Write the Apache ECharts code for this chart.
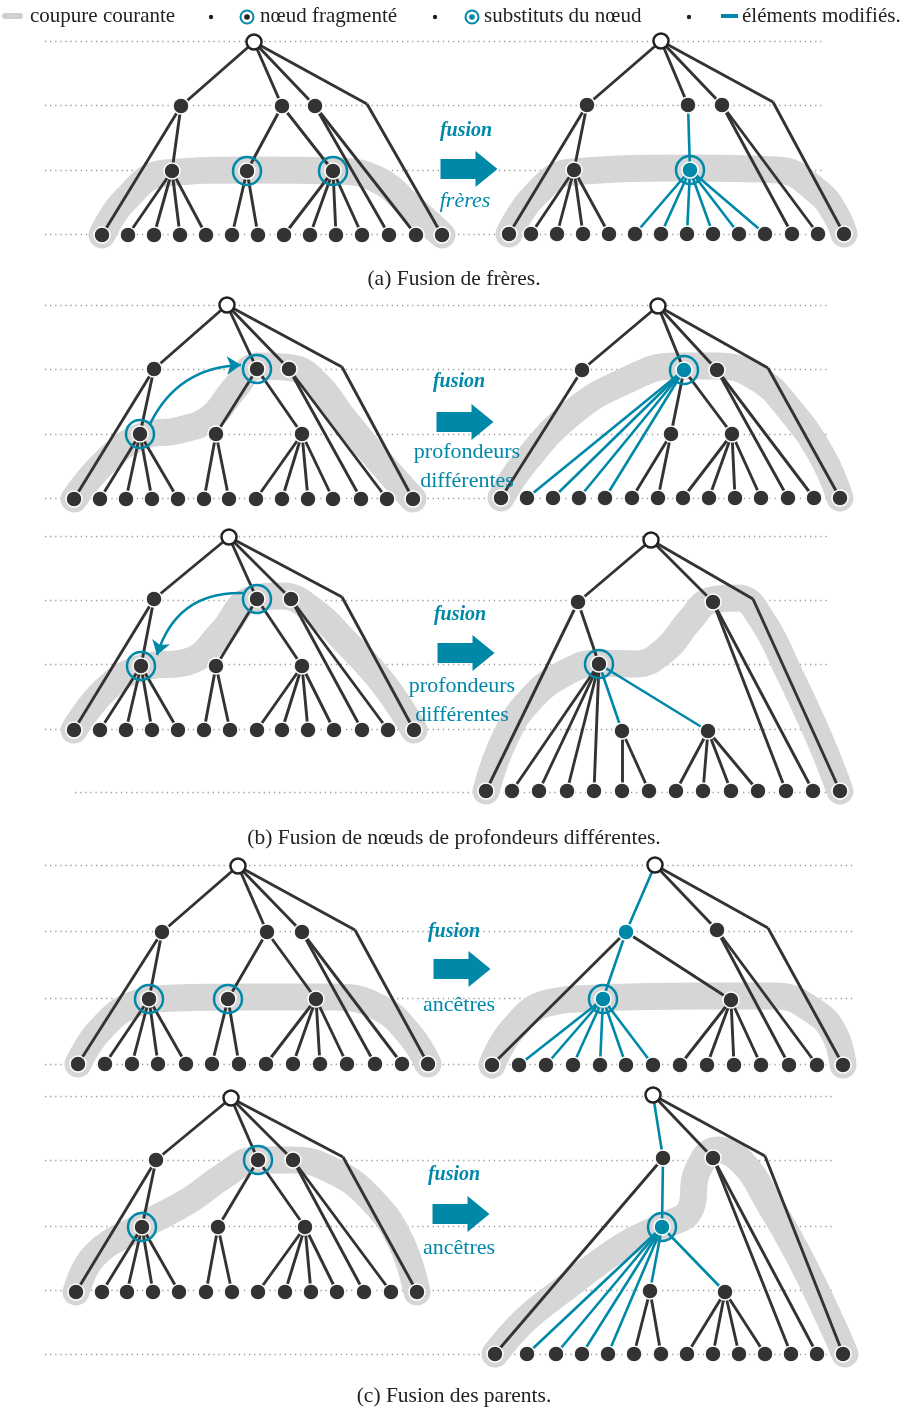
<!DOCTYPE html>
<html>
<head>
<meta charset="utf-8">
<script src="https://cdn.jsdelivr.net/npm/echarts@6/dist/echarts.min.js"></script>
<style>
  html, body { margin: 0; padding: 0; background: #fff; }
  #chart { width: 909px; height: 1410px; }
</style>
</head>
<body>
<div id="chart"></div>
<script>
const chart = echarts.init(document.getElementById("chart"));

// ==========================
// COLOURS / FONTS
// ==========================

const BLUE = "#0088a8";
const DARK = "#333333";
const BAND = "#d6d6d6";
const FONT = "'Liberation Serif', serif";

// ==========================
// TREE DATA  (node positions, edges as [parent, child]; "lN" = leaf N)
// ==========================

// all five left-hand trees share the same shape
const leftEdges = [[0,1],[0,2],[0,3],[0,4],[4,"l13"],[1,"l0"],[1,5],[5,"l1"],[5,"l2"],[5,"l3"],[5,"l4"],
  [2,6],[2,7],[6,"l5"],[6,"l6"],[7,"l7"],[7,"l8"],[7,"l9"],[7,"l10"],[3,"l11"],[3,"l12"]];

// (a) left
const aLeftInner = [[254,42],[181,106],[282,106],[315,106],[367,104],[172,171],[247,171],[333,171]];
const aLeftLeaves = [102,128,154,180,206,232,258,284,310,336,362,389,416,442];
const aLeftLeafY = 235;
const aLeftRings = [6, 7];
const aLeftCut = [[102,235],[125,200],[165,173],[250,170],[335,171],[378,180],[412,208],[442,235]];

// (a) right
const aRightInner = [[661,41],[587,105],[688,105],[722,105],[773,102],[574,170],[690,170]];
const aRightLeaves = [509,531,557,583,609,635,661,687,713,739,765,792,818,844];
const aRightLeafY = 234;
const aRightEdges = [[0,1],[0,2],[0,3],[0,4],[4,"l13"],[1,"l0"],[1,5],[5,"l1"],[5,"l2"],[5,"l3"],[5,"l4"],[3,"l11"],[3,"l12"]];
const aRightBlue = [[2,6],[6,"l5"],[6,"l6"],[6,"l7"],[6,"l8"],[6,"l9"],[6,"l10"]];
const aRightCut = [[509,234],[535,195],[572,172],[690,168],[778,170],[818,192],[836,215],[844,234]];

// (b) first row, left
const b1LeftInner = [[227,305],[154,369],[257,369],[289,369],[342,367],[140,434],[216,434],[302,434]];
const b1LeftLeaves = [74,100,126,152,178,204,229,256,282,308,333,361,387,413];
const b1LeftLeafY = 499;
const b1LeftCut = [[74,499],[105,462],[140,437],[180,430],[210,418],[235,388],[258,366],[292,368],[318,385],[345,420],[380,462],[413,499]];

// (b) first row, right
const b1RightInner = [[658,306],[582,370],[684,370],[717,370],[768,368],[671,434],[732,434]];
const b1RightLeaves = [501,527,553,579,605,632,658,683,709,735,761,788,814,840];
const b1RightLeafY = 498;
const b1RightEdges = [[0,1],[0,2],[0,3],[0,4],[4,"l13"],[1,"l0"],[2,5],[2,6],[5,"l5"],[5,"l6"],[6,"l7"],[6,"l8"],[6,"l9"],[6,"l10"],[3,"l11"],[3,"l12"]];
const b1RightBlue = [[2,"l1"],[2,"l2"],[2,"l3"],[2,"l4"]];
const b1RightCut = [[501,498],[525,462],[573,412],[623,382],[675,366],[717,366],[757,378],[790,410],[822,456],[840,498]];

// (b) second row, left
const b2LeftInner = [[229,537],[154,599],[257,599],[291,599],[342,597],[141,666],[216,666],[302,666]];
const b2LeftLeaves = [74,100,126,152,178,204,230,257,282,308,334,362,388,414];
const b2LeftLeafY = 730;
const b2LeftCut = [[74,730],[105,690],[141,668],[190,661],[222,632],[250,600],[282,596],[315,612],[342,638],[383,683],[414,730]];

// (b) second row, right
const b2RightInner = [[651,540],[578,602],[713,602],[753,599],[599,664],[622,731],[708,731]];
const b2RightLeaves = [486,512,539,567,594,622,649,676,703,731,758,786,813,840];
const b2RightLeafY = 791;
const b2RightEdges = [[0,1],[0,2],[0,3],[3,"l13"],[1,"l0"],[1,4],[4,"l1"],[4,"l2"],[4,"l3"],[4,"l4"],[5,"l5"],[5,"l6"],
  [6,"l7"],[6,"l8"],[6,"l9"],[6,"l10"],[2,"l11"],[2,"l12"]];
const b2RightBlue = [[4,5],[4,6]];
const b2RightCut = [[486,791],[505,738],[530,700],[565,673],[600,663],[635,664],[665,650],[690,620],[712,600],[738,598],[762,620],[790,675],[820,740],[840,791]];

// (c) first row, left
const c1LeftInner = [[238,866],[162,932],[267,932],[302,932],[355,930],[149,999],[228,999],[316,999]];
const c1LeftLeaves = [78,105,132,158,186,212,239,266,293,320,347,375,402,428];
const c1LeftLeafY = 1064;
const c1LeftCut = [[78,1064],[100,1030],[135,1004],[175,998],[250,997],[335,997],[380,1008],[410,1035],[428,1064]];

// (c) first row, right
const c1RightInner = [[655,865],[626,932],[717,930],[768,928],[603,999],[731,1000]];
const c1RightLeaves = [492,519,546,573,600,626,653,680,707,734,761,789,817,843];
const c1RightLeafY = 1065;
const c1RightEdges = [[0,2],[0,3],[3,"l13"],[1,"l0"],[1,5],[5,"l7"],[5,"l8"],[5,"l9"],[5,"l10"],[2,"l11"],[2,"l12"]];
const c1RightBlue = [[0,1],[1,4],[4,"l1"],[4,"l2"],[4,"l3"],[4,"l4"],[4,"l5"],[4,"l6"]];
const c1RightCut = [[492,1065],[512,1030],[548,1003],[600,998],[700,996],[775,996],[815,1012],[835,1035],[843,1065]];

// (c) second row, left
const c2LeftInner = [[231,1098],[156,1160],[258,1160],[293,1160],[343,1157],[142,1227],[218,1227],[305,1227]];
const c2LeftLeaves = [76,102,127,153,179,206,232,258,285,311,337,364,391,417];
const c2LeftLeafY = 1292;
const c2LeftCut = [[76,1292],[95,1255],[142,1226],[190,1200],[225,1175],[256,1160],[293,1160],[335,1172],[370,1198],[400,1240],[417,1292]];

// (c) second row, right
const c2RightInner = [[653,1095],[663,1158],[713,1158],[765,1156],[662,1227],[650,1291],[725,1292]];
const c2RightLeaves = [495,527,556,582,608,634,661,687,713,739,765,791,817,843];
const c2RightLeafY = 1354;
const c2RightEdges = [[0,2],[0,3],[3,"l13"],[1,"l0"],[5,"l5"],[5,"l6"],[6,"l7"],[6,"l8"],[6,"l9"],[6,"l10"],[2,"l11"],[2,"l12"]];
const c2RightBlue = [[0,1],[1,4],[4,"l1"],[4,"l2"],[4,"l3"],[4,"l4"],[4,5],[4,6]];
const c2RightCut = [[495,1354],[525,1320],[560,1292],[623,1246],[663,1226],[690,1210],[697,1172],[717,1150],[742,1162],[770,1205],[800,1258],[830,1320],[845,1354]];

// curved "move" arrows of part (b): [from, to, curveness]
const moveArrows = [
  [[150,424],[241,365], 0.3],
  [[243,593],[157,655], -0.38]
];

// dotted level guides: [x1, x2, y]
const guides = [
  [45,825,41],[45,825,105],[45,825,170],[45,825,234],
  [45,828,305],[45,828,369],[45,828,434],[45,828,498],
  [45,830,536],[45,830,600],[45,830,664],[45,830,729],[75,830,792],
  [45,853,865],[45,853,931],[45,853,998],[45,853,1064],
  [45,833,1096],[45,833,1160],[45,833,1226],[45,833,1290],[45,833,1354]
];

// block arrows and their labels
const arrowPos = [[469,169],[465,422],[466,653],[462,969],[461,1214]];
const fusionPos = [[466,131],[459,382],[460,615],[454,932],[454,1175]];
const sideTexts = [["frères"],["profondeurs","différentes"],["profondeurs","différentes"],["ancêtres"],["ancêtres"]];
const sideTextPos = [[[465,201]],[[467,452],[467,481]],[[462,686],[462,715]],[[459,1005]],[[459,1248]]];
const sideItalic = [true, false, false, false, false];

const captions = ["(a) Fusion de frères.", "(b) Fusion de nœuds de profondeurs différentes.", "(c) Fusion des parents."];
const captionY = [279, 838, 1396];

const legendLabels = ["coupure courante", "nœud fragmenté", "substituts du nœud", "éléments modifiés."];
const legendX = [30, 260, 484, 742];

// ==========================
// BUILD
// ==========================

const panels = [
  { inner: aLeftInner, leaves: aLeftLeaves, leafY: aLeftLeafY, edges: leftEdges, blue: [], rings: aLeftRings, blueNodes: [], hidden: [4], cut: aLeftCut },
  { inner: aRightInner, leaves: aRightLeaves, leafY: aRightLeafY, edges: aRightEdges, blue: aRightBlue, rings: [6], blueNodes: [6], hidden: [4], cut: aRightCut },
  { inner: b1LeftInner, leaves: b1LeftLeaves, leafY: b1LeftLeafY, edges: leftEdges, blue: [], rings: [2,5], blueNodes: [], hidden: [4], cut: b1LeftCut },
  { inner: b1RightInner, leaves: b1RightLeaves, leafY: b1RightLeafY, edges: b1RightEdges, blue: b1RightBlue, rings: [2], blueNodes: [2], hidden: [4], cut: b1RightCut },
  { inner: b2LeftInner, leaves: b2LeftLeaves, leafY: b2LeftLeafY, edges: leftEdges, blue: [], rings: [2,5], blueNodes: [], hidden: [4], cut: b2LeftCut },
  { inner: b2RightInner, leaves: b2RightLeaves, leafY: b2RightLeafY, edges: b2RightEdges, blue: b2RightBlue, rings: [4], blueNodes: [], hidden: [3], cut: b2RightCut },
  { inner: c1LeftInner, leaves: c1LeftLeaves, leafY: c1LeftLeafY, edges: leftEdges, blue: [], rings: [5,6], blueNodes: [], hidden: [4], cut: c1LeftCut },
  { inner: c1RightInner, leaves: c1RightLeaves, leafY: c1RightLeafY, edges: c1RightEdges, blue: c1RightBlue, rings: [4], blueNodes: [1,4], hidden: [3], cut: c1RightCut },
  { inner: c2LeftInner, leaves: c2LeftLeaves, leafY: c2LeftLeafY, edges: leftEdges, blue: [], rings: [2,5], blueNodes: [], hidden: [4], cut: c2LeftCut },
  { inner: c2RightInner, leaves: c2RightLeaves, leafY: c2RightLeafY, edges: c2RightEdges, blue: c2RightBlue, rings: [4], blueNodes: [4], hidden: [3], cut: c2RightCut }
];

function pos(p, id) {
  return typeof id === "string" ? [p.leaves[+id.slice(1)], p.leafY] : p.inner[id];
}

const blackEdges = [], blueEdges = [], darkNodes = [], blueNodes = [], rootNodes = [], ringNodes = [];

panels.forEach(p => {
  p.edges.forEach(e => blackEdges.push({ coords: [pos(p, e[0]), pos(p, e[1])] }));
  p.blue.forEach(e => blueEdges.push({ coords: [pos(p, e[0]), pos(p, e[1])] }));
  p.inner.forEach((xy, i) => {
    if (p.hidden.includes(i)) return;
    if (i === 0) rootNodes.push(xy);
    else if (p.blueNodes.includes(i)) blueNodes.push(xy);
    else darkNodes.push(xy);
  });
  p.leaves.forEach(x => darkNodes.push([x, p.leafY]));
  p.rings.forEach(i => ringNodes.push(p.inner[i]));
});

const bandSeries = panels.map(p => ({
  type: "line",
  data: p.cut,
  smooth: 0.45,
  symbol: "none",
  silent: true,
  lineStyle: { color: BAND, width: 27, cap: "round", join: "round" },
  z: 1
}));

// ==========================
// TEXT (graphic)
// ==========================

function txt(x, y, text, font, fill, align) {
  return {
    type: "text", x: x, y: y, silent: true, z: 100,
    style: { text: text, font: font, fill: fill, align: align || "center", verticalAlign: "middle",
             textAlign: align || "center", textVerticalAlign: "middle" }
  };
}

const graphics = [];
fusionPos.forEach(xy => graphics.push(txt(xy[0], xy[1], "fusion", `italic bold 20px ${FONT}`, BLUE)));
sideTexts.forEach((lines, k) => lines.forEach((t, j) => {
  const xy = sideTextPos[k][j];
  graphics.push(txt(xy[0], xy[1], t, `${sideItalic[k] ? "italic " : ""}22px ${FONT}`, BLUE));
}));
captions.forEach((t, k) => graphics.push(txt(454, captionY[k], t, `21.5px ${FONT}`, "#222")));
legendLabels.forEach((t, k) => graphics.push(txt(legendX[k], 16, t, `21px ${FONT}`, "#222", "left")));

// legend icons
graphics.push(
  { type: "line", silent: true, shape: { x1: 5, y1: 16, x2: 20, y2: 16 }, style: { stroke: "#cfcfcf", lineWidth: 6, lineCap: "round" } },
  { type: "circle", silent: true, shape: { cx: 211, cy: 17, r: 2.2 }, style: { fill: "#222" } },
  { type: "circle", silent: true, shape: { cx: 435, cy: 17, r: 2.2 }, style: { fill: "#222" } },
  { type: "circle", silent: true, shape: { cx: 689, cy: 17, r: 2.2 }, style: { fill: "#222" } },
  { type: "circle", silent: true, shape: { cx: 247, cy: 17, r: 6.5 }, style: { fill: "none", stroke: BLUE, lineWidth: 2 } },
  { type: "circle", silent: true, shape: { cx: 247, cy: 17, r: 2.8 }, style: { fill: "#222" } },
  { type: "circle", silent: true, shape: { cx: 472, cy: 17, r: 6.5 }, style: { fill: "none", stroke: BLUE, lineWidth: 2 } },
  { type: "circle", silent: true, shape: { cx: 472, cy: 17, r: 2.8 }, style: { fill: BLUE } },
  { type: "line", silent: true, shape: { x1: 721, y1: 16, x2: 738, y2: 16 }, style: { stroke: BLUE, lineWidth: 4 } }
);

// ==========================
// CHART
// ==========================

chart.setOption({
  animation: false,
  grid: { left: 0, right: 0, top: 0, bottom: 0 },
  xAxis: { type: "value", min: 0, max: 909, show: false },
  yAxis: { type: "value", min: 0, max: 1410, inverse: true, show: false },
  graphic: graphics,
  series: [
    {
      type: "lines", coordinateSystem: "cartesian2d", silent: true, z: 0,
      data: guides.map(g => ({ coords: [[g[0], g[2]], [g[1], g[2]]] })),
      lineStyle: { color: "#9c9c9c", width: 1.3, opacity: 1, type: [1.3, 3.8] }
    },
    ...bandSeries,
    {
      type: "lines", coordinateSystem: "cartesian2d", silent: true, z: 2,
      data: blackEdges,
      lineStyle: { color: DARK, width: 2.9, opacity: 1 }
    },
    {
      type: "lines", coordinateSystem: "cartesian2d", silent: true, z: 2,
      data: blueEdges,
      lineStyle: { color: BLUE, width: 2.6, opacity: 1 }
    },
    {
      type: "lines", coordinateSystem: "cartesian2d", silent: true, z: 3,
      symbol: ["none", "arrow"], symbolSize: 14,
      data: moveArrows.map(a => ({ coords: [a[0], a[1]], lineStyle: { curveness: a[2] } })),
      lineStyle: { color: BLUE, width: 2.6, opacity: 1 }
    },
    {
      type: "scatter", silent: true, z: 4, symbolSize: 16,
      data: darkNodes,
      itemStyle: { color: DARK, borderColor: "#fff", borderWidth: 1.5, opacity: 1 }
    },
    {
      type: "scatter", silent: true, z: 4, symbolSize: 16,
      data: blueNodes,
      itemStyle: { color: BLUE, borderColor: "#fff", borderWidth: 1.5, opacity: 1 }
    },
    {
      type: "scatter", silent: true, z: 4, symbolSize: 15,
      data: rootNodes,
      itemStyle: { color: "#fff", borderColor: "#222", borderWidth: 2.5, opacity: 1 }
    },
    {
      type: "scatter", silent: true, z: 5, symbolSize: 28,
      data: ringNodes,
      itemStyle: { color: "rgba(0,0,0,0)", borderColor: BLUE, borderWidth: 2.5, opacity: 1 }
    },
    {
      type: "scatter", silent: true, z: 5,
      symbol: "path://M0,8L35,8L35,0L57,18L35,36L35,28L0,28Z",
      symbolSize: [57, 36],
      data: arrowPos,
      itemStyle: { color: BLUE, opacity: 1 }
    }
  ]
});
</script>
</body>
</html>
